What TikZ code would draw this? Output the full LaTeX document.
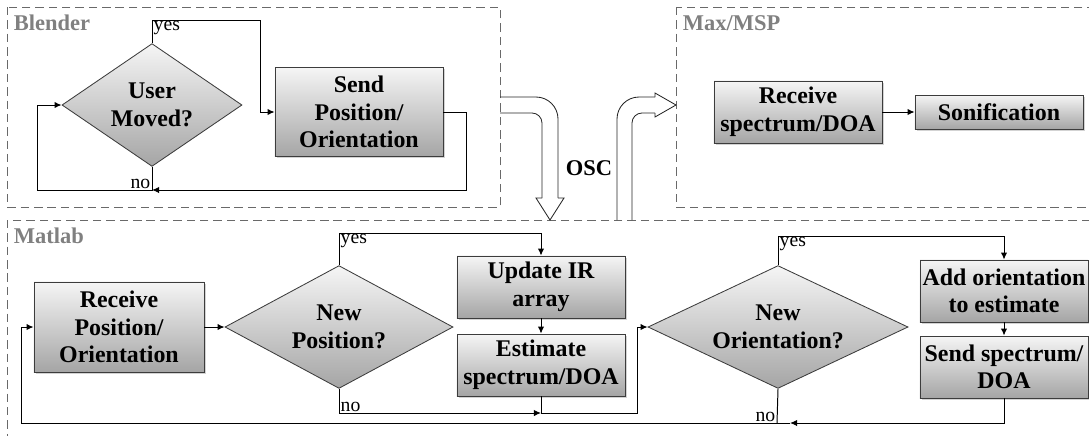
\documentclass[tikz,border=0pt]{standalone}
\usepackage{fontspec}
\setmainfont{Liberation Serif}
\usetikzlibrary{shapes.geometric, arrows.meta, positioning, shadows}
\definecolor{framegray}{RGB}{105,105,105}
\definecolor{titlegray}{RGB}{128,128,128}
\definecolor{boxtop}{RGB}{245,245,245}
\definecolor{boxbottom}{RGB}{165,165,165}
\definecolor{edgegray}{RGB}{60,60,60}

\begin{document}
\begin{tikzpicture}[x=0.025cm, y=-0.025cm,
  proc/.style={rectangle, draw=edgegray, line width=0.6pt, top color=boxtop, bottom color=boxbottom, drop shadow={shadow xshift=1.2pt, shadow yshift=-1.2pt, opacity=0.35}, align=center, inner sep=0pt, minimum width=4.2cm, font=\fontsize{17}{19.6}\selectfont\bfseries},
  decide/.style={diamond, draw=edgegray, line width=0.6pt, top color=boxtop, bottom color=boxbottom, align=center, inner sep=0pt, minimum height=3.07cm, font=\fontsize{17}{19.6}\selectfont\bfseries},
  group/.style={draw=framegray, line width=0.7pt, dash pattern=on 6pt off 3.5pt},
  grouptitle/.style={anchor=west, text=titlegray, font=\fontsize{16}{18}\selectfont\bfseries},
  flow/.style={draw, line width=0.7pt, -{Latex[length=5pt,width=4.5pt]}},
  plain/.style={draw, line width=0.7pt},
  lbl/.style={font=\fontsize{14}{16}\selectfont, inner sep=1pt},
  bigarrow/.style={draw, line width=0.6pt, black!85}]
\useasboundingbox (0,0) rectangle (1089,435);
\clip (0,0) rectangle (1089,435);

\draw[group] (7,7) rectangle (500,207);
\draw[group] (676,7) rectangle (1100,207);
\draw[group] (7,220) rectangle (1100,450);
\node[grouptitle] (blender) at (9,23) {Blender};
\node[grouptitle] (maxmsp) at (678,23) {Max/MSP};
\node[grouptitle] (matlab) at (9,236) {Matlab};

\node[decide, aspect=1.46, minimum width=4.5cm] (moved) at (152,105) {User\\Moved?};
\node[proc, minimum height=2.225cm] (sendpos) at (359,112) {Send\\Position/\\Orientation};
\coordinate (bjoin) at (152,190);
\draw[flow] (moved.north) -- (152,20) -| (260,112) -- (sendpos.west);
\draw[flow] (sendpos.east) -| (466,190) -- (bjoin);
\draw[flow] (moved.south) -- (bjoin) -- (37,190) |- (moved.west);
\node[lbl, anchor=north west] at (152,20) {yes};
\node[lbl, anchor=south east] at (bjoin) {no};

\node[proc, minimum height=1.55cm] (recspec) at (798,112) {Receive\\spectrum/DOA};
\node[proc, minimum height=0.85cm] (sonif) at (999,112) {Sonification};
\draw[flow] (recspec) -- (sonif);

\draw[bigarrow, rounded corners=0.55cm] (500,97) -- (558,97) -- (558,198);
\draw[bigarrow, rounded corners=0.25cm] (500,113) -- (542,113) -- (542,198);
\draw[bigarrow] (542,198) -- (536,198) -- (550,220) -- (564,198) -- (558,198);
\node[anchor=west, font=\fontsize{16}{18}\selectfont\bfseries] (osc) at (561,168) {OSC};
\draw[bigarrow, rounded corners=0.55cm] (617,220) -- (617,97) -- (655,97);
\draw[bigarrow, rounded corners=0.25cm] (632,220) -- (632,113) -- (655,113);
\draw[bigarrow] (655,97) -- (655,93) -- (676,105) -- (655,117) -- (655,113);

\node[proc, minimum width=4.25cm, minimum height=2.25cm] (recpos) at (119,327) {Receive\\Position/\\Orientation};
\node[decide, aspect=1.87, minimum width=5.7cm] (newpos) at (339,327) {New\\Position?};
\node[proc, minimum height=1.55cm] (update) at (541,287) {Update IR\\array};
\node[proc, minimum height=1.55cm] (estim) at (541,365) {Estimate\\spectrum/DOA};
\node[decide, aspect=2.13, minimum width=6.5cm] (neworient) at (778,327) {New\\Orientation?};
\node[proc, minimum height=1.55cm] (addor) at (1004,291) {Add orientation\\to estimate};
\node[proc, minimum height=1.55cm] (sendspec) at (1004,367) {Send spectrum/\\DOA};
\coordinate (pjoin) at (541,413);
\coordinate (ojoin) at (777,423);
\coordinate (otip) at (790,423);
\draw[flow] (recpos) -- (newpos);
\draw[flow] (newpos.north) -- (339,233) -| (update.north);
\draw[flow] (update) -- (estim);
\draw[flow] (newpos.south) |- (pjoin);
\draw[flow] (estim.south) -- (pjoin) -- (637,413) |- (neworient.west);
\draw[flow] (neworient.north) -- (778,236) -| (addor.north);
\draw[flow] (addor) -- (sendspec);
\draw[flow] (sendspec.south) |- (otip);
\draw[plain] (neworient.south) -- (ojoin);
\draw[flow] (otip) -- (ojoin) -- (21,423) |- (recpos.west);
\node[lbl, anchor=north west] at (339,233) {yes};
\node[lbl, anchor=south west] at (339,413) {no};
\node[lbl, anchor=north west] at (778,236) {yes};
\node[lbl, anchor=south east] at (ojoin) {no};
\end{tikzpicture}
\end{document}
